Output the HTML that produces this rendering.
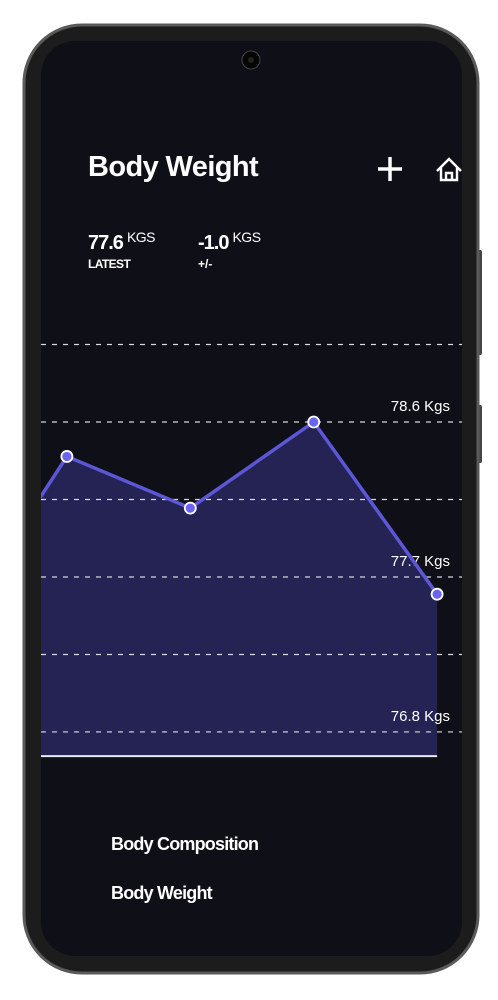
<!DOCTYPE html>
<html><head><meta charset="utf-8">
<style>
html,body{margin:0;padding:0;background:#fff;width:498px;height:1000px;overflow:hidden;font-family:"Liberation Sans",sans-serif}
</style></head>
<body>
<svg width="498" height="1000" viewBox="0 0 498 1000" xmlns="http://www.w3.org/2000/svg">
  <defs><clipPath id="scr"><rect x="41" y="41" width="421" height="915" rx="34"/></clipPath></defs>
  <rect x="477" y="250" width="5" height="105" rx="2" fill="#444"/>
  <rect x="477" y="405" width="5" height="58" rx="2" fill="#444"/>
  <rect x="24" y="25" width="454" height="948" rx="58" fill="#1c1c1c" stroke="#5a5a5a" stroke-width="3"/>
  <rect x="41" y="41" width="421" height="915" rx="34" fill="#0f0f18"/>
  <circle cx="251" cy="60" r="9" fill="#050505" stroke="#555" stroke-width="0.8"/>
  <circle cx="251" cy="60" r="3" fill="#222"/>
  <g clip-path="url(#scr)">
    <text x="88" y="176" fill="#fff" font-size="29" font-weight="bold" letter-spacing="-0.6">Body Weight</text>
    <g><path d="M390 157v24M378 169h24" stroke="#fff" stroke-width="3.5"/></g>
    <g fill="none" stroke="#fff" stroke-width="2.4"><path d="M437 171l12-12 12 12M441 167v13h16v-13M446 180v-7h6v7"/></g>
    <text x="88" y="249" fill="#fff" font-size="20" font-weight="bold" letter-spacing="-1">77.6<tspan font-size="14" font-weight="normal" dx="4" dy="-7" letter-spacing="-0.5">KGS</tspan></text>
    <text x="88" y="268" fill="#fff" font-size="12" font-weight="bold" letter-spacing="-0.6">LATEST</text>
    <text x="198" y="249" fill="#fff" font-size="20" font-weight="bold" letter-spacing="-1">-1.0<tspan font-size="14" font-weight="normal" dx="4" dy="-7" letter-spacing="-0.5">KGS</tspan></text>
    <text x="198" y="268" fill="#fff" font-size="12" font-weight="bold">+/-</text>
    <g id="chart"></g>
    <text x="111" y="850" fill="#fff" font-size="18" font-weight="bold" letter-spacing="-0.8">Body Composition</text>
    <text x="111" y="899" fill="#fff" font-size="18" font-weight="bold" letter-spacing="-0.8">Body Weight</text>
  </g>
</svg>
<script>
const values = [77.3, 78.4, 78.1, 78.6, 77.6];
const gridValues = [79.05, 78.6, 78.15, 77.7, 77.25, 76.8];
const tickLabels = ["78.6 Kgs", "77.7 Kgs", "76.8 Kgs"];
const tickValues = [78.6, 77.7, 76.8];
const baseValue = 76.66;
const NS = "http://www.w3.org/2000/svg";
const g = document.getElementById('chart');
function yS(v){ return 422 + (78.6 - v) * 172.2; }
function xS(i){ return -56.5 + i * 123.4; }
function mk(tag, attrs){ const e = document.createElementNS(NS, tag); for (const k in attrs) e.setAttribute(k, attrs[k]); g.appendChild(e); return e; }
const last = values.length - 1;
let d = 'M' + xS(0) + ' ' + yS(baseValue);
values.forEach((v,i)=>{ d += ' L' + xS(i) + ' ' + yS(v); });
d += ' L' + xS(last) + ' ' + yS(baseValue) + ' Z';
const area = mk('path', {d: d, fill: '#252354'});


gridValues.forEach(v=>{
  const l = mk('line', {x1: 41, x2: 462, y1: yS(v), y2: yS(v), stroke: '#d8d8e0', 'stroke-width': 1.2, 'stroke-dasharray': '5 6'});
  
  
});
const base = mk('line', {x1: 41, x2: xS(last), y1: yS(baseValue), y2: yS(baseValue), stroke: '#e8e8f0', 'stroke-width': 2});


tickLabels.forEach((t,i)=>{
  const tx = mk('text', {x: 450, y: yS(tickValues[i]) - 11, fill: '#fff', 'font-size': 15, 'text-anchor': 'end'});
  tx.textContent = t;
  
  
});
const line = mk('polyline', {points: values.map((v,i)=>xS(i)+','+yS(v)).join(' '), fill: 'none', stroke: '#5b57d6', 'stroke-width': 3.5, 'stroke-linejoin': 'round'});


values.forEach((v,i)=>{
  const c = mk('circle', {cx: xS(i), cy: yS(v), r: 5.5, fill: '#6a65f0', stroke: '#fff', 'stroke-width': 1.8});
  
  
});
</script>
</body></html>
